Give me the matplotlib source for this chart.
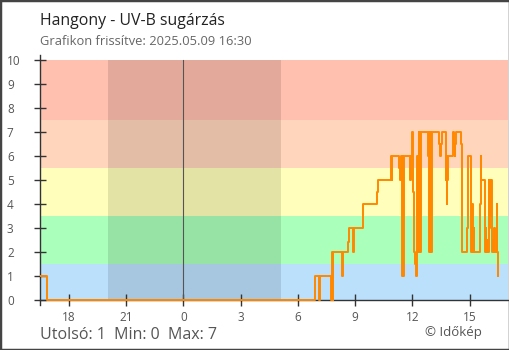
import matplotlib
matplotlib.use("Agg")
import matplotlib.pyplot as plt
from matplotlib.patches import Rectangle
from matplotlib.ticker import FixedLocator, FuncFormatter
import pandas as pd

plt.rcParams['font.family'] = ['Open Sans', 'DejaVu Sans']

station = "Hangony"
updated = "2025.05.09 16:30"

# UV-B index readings (value holds from the timestamp until the next one)
times = [
    "2025-05-08 16:30", "2025-05-08 16:51",
    "2025-05-09 06:53", "2025-05-09 07:07", "2025-05-09 07:10", "2025-05-09 07:45",
    "2025-05-09 07:47", "2025-05-09 07:48", "2025-05-09 07:50", "2025-05-09 07:51",
    "2025-05-09 08:19", "2025-05-09 08:21", "2025-05-09 08:38", "2025-05-09 08:40",
    "2025-05-09 08:53", "2025-05-09 08:56", "2025-05-09 09:25", "2025-05-09 10:08",
    "2025-05-09 10:11", "2025-05-09 10:53", "2025-05-09 10:56", "2025-05-09 10:57",
    "2025-05-09 11:19", "2025-05-09 11:21", "2025-05-09 11:23", "2025-05-09 11:28",
    "2025-05-09 11:30", "2025-05-09 11:31", "2025-05-09 11:33", "2025-05-09 11:53",
    "2025-05-09 11:55", "2025-05-09 11:58", "2025-05-09 12:03", "2025-05-09 12:05",
    "2025-05-09 12:08", "2025-05-09 12:11", "2025-05-09 12:13", "2025-05-09 12:17",
    "2025-05-09 12:18", "2025-05-09 12:20", "2025-05-09 12:22", "2025-05-09 12:23",
    "2025-05-09 12:24", "2025-05-09 12:26", "2025-05-09 12:48", "2025-05-09 12:50",
    "2025-05-09 12:52", "2025-05-09 12:53", "2025-05-09 12:54", "2025-05-09 12:55",
    "2025-05-09 12:57", "2025-05-09 12:58", "2025-05-09 13:00", "2025-05-09 13:24",
    "2025-05-09 13:26", "2025-05-09 13:28", "2025-05-09 13:34", "2025-05-09 13:45",
    "2025-05-09 13:46", "2025-05-09 13:47", "2025-05-09 13:48", "2025-05-09 13:49",
    "2025-05-09 13:50", "2025-05-09 14:06", "2025-05-09 14:11", "2025-05-09 14:13",
    "2025-05-09 14:15", "2025-05-09 14:17", "2025-05-09 14:33", "2025-05-09 14:37",
    "2025-05-09 14:50", "2025-05-09 14:53", "2025-05-09 15:04", "2025-05-09 15:06",
    "2025-05-09 15:07", "2025-05-09 15:08", "2025-05-09 15:09", "2025-05-09 15:10",
    "2025-05-09 15:11", "2025-05-09 15:13", "2025-05-09 15:14", "2025-05-09 15:33",
    "2025-05-09 15:35", "2025-05-09 15:36", "2025-05-09 15:47", "2025-05-09 15:48",
    "2025-05-09 15:50", "2025-05-09 15:51", "2025-05-09 15:54", "2025-05-09 15:55",
    "2025-05-09 15:59", "2025-05-09 16:01", "2025-05-09 16:02", "2025-05-09 16:04",
    "2025-05-09 16:05", "2025-05-09 16:07", "2025-05-09 16:08", "2025-05-09 16:11",
    "2025-05-09 16:14", "2025-05-09 16:15", "2025-05-09 16:17", "2025-05-09 16:18",
    "2025-05-09 16:24", "2025-05-09 16:25", "2025-05-09 16:30",
]
uvb = [
    1, 0,
    1, 0, 1, 0,
    1, 2, 0, 2,
    1, 2, 2.4, 3,
    2, 3, 4, 4.5,
    5, 6, 5, 6,
    5.5, 5, 6, 1,
    6, 1, 6, 5,
    6, 7, 4.5, 2,
    1.5, 1, 6, 2,
    6, 7, 2, 7,
    2, 7, 6.5, 6,
    7, 2, 7, 2,
    7, 2, 7, 6.5,
    6, 6.5, 7, 5,
    6, 5, 4, 5,
    6, 7, 6.5, 6,
    6.5, 7, 6.5, 2,
    3, 6, 2, 3,
    2, 4, 2, 3,
    2, 3, 2, 4,
    6, 5, 3, 2,
    3, 2, 2.5, 2,
    5, 3, 5, 4,
    5, 3.5, 5, 2,
    2.5, 2, 3, 2,
    4, 2, 1,
]

# UV category bands
band_edges = [0, 1.5, 3.5, 5.5, 7.5, 10]
band_colors = ["#bbe0fb", "#aaffbb", "#ffffbb", "#ffd5bb", "#ffc0b0"]

# night (sunset / sunrise)
sunset = "2025-05-08 20:05"
sunrise = "2025-05-09 05:07"

tick_hours = [-6, -3, 0, 3, 6, 9, 12, 15]

midnight = pd.Timestamp("2025-05-09 00:00")
def to_hours(t):
    return (pd.to_datetime(t) - midnight) / pd.Timedelta(hours=1)

x = to_hours(pd.Series(times))

fig = plt.figure(figsize=(5.1, 3.5), dpi=100)
ax = fig.add_axes([40 / 510, 0.1277, 468 / 510, 0.716])
ax.set_xlim(-7.5, 17.0)
ax.set_ylim(-0.22, 10.22)

for lo, hi, c in zip(band_edges[:-1], band_edges[1:], band_colors):
    ax.axhspan(lo, hi, color=c, lw=0, zorder=0)
ax.fill_between([to_hours(sunset), to_hours(sunrise)], 0, 10,
                color="black", alpha=0.11, lw=0, zorder=1)
ax.plot([0, 0], [0, 10], color="#555555", lw=0.8, zorder=2)

ax.step(x, uvb, where="post", color="#ff8800", lw=1.4, zorder=3)

for s in ["top", "right"]:
    ax.spines[s].set_visible(False)
ax.spines["bottom"].set_position(("data", 0))
for s in ["left", "bottom"]:
    ax.spines[s].set_color("#333333")
    ax.spines[s].set_linewidth(1)

ax.yaxis.set_major_locator(FixedLocator(range(0, 11)))
ax.xaxis.set_major_locator(FixedLocator(tick_hours))
ax.xaxis.set_major_formatter(FuncFormatter(lambda v, p: str(int(v) % 24)))
ax.tick_params(axis="y", direction="inout", length=8.6, width=1, color="#333333",
               labelsize=8.5, labelcolor="#555555", pad=19.5)
ax.tick_params(axis="x", direction="inout", length=8, width=1, color="#333333",
               labelsize=8.5, labelcolor="#555555", pad=4)
for lab in ax.get_yticklabels():
    lab.set_horizontalalignment("left")

fig.text(40 / 510, 1 - 25 / 350, f"{station} - UV-B sugárzás", fontsize=11.4,
         color="#222222", va="baseline")
fig.text(40 / 510, 1 - 45 / 350, f"Grafikon frissítve: {updated}", fontsize=9.3,
         color="#666666", va="baseline")
fig.text(40 / 510, 1 - 339 / 350,
         f"Utolsó: {uvb[-1]:g}  Min: {min(uvb):g}  Max: {max(uvb):g}",
         fontsize=11.5, color="#555555", va="baseline")
fig.text(482 / 510, 1 - 336 / 350, "© Időkép", fontsize=9.5, color="#555555",
         va="baseline", ha="right")

fig.patches.append(Rectangle((0, 0), 1, 1, transform=fig.transFigure, fill=False,
                             ec="#444444", lw=2.5))

fig.savefig("out.png", dpi=100)
